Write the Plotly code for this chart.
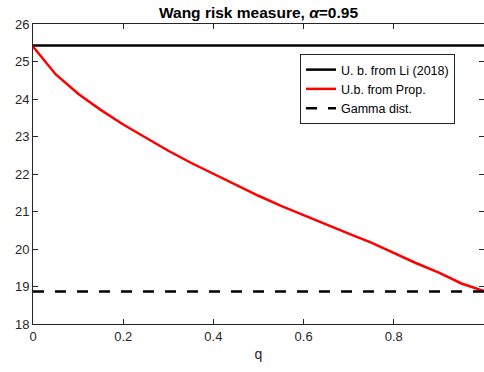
import plotly.graph_objects as go

q = [0, 0.05, 0.1, 0.15, 0.2, 0.25, 0.3, 0.35, 0.4, 0.45, 0.5,
     0.55, 0.6, 0.65, 0.7, 0.75, 0.8, 0.85, 0.9, 0.95, 1.0]
ub_prop = [25.40, 24.66, 24.14, 23.71, 23.32, 22.97, 22.62, 22.30, 22.00, 21.70, 21.42,
           21.15, 20.90, 20.64, 20.41, 20.17, 19.89, 19.62, 19.37, 19.08, 18.88]
ub_li = 25.43
gamma_val = 18.87

x_ticks = [0, 0.2, 0.4, 0.6, 0.8, 1]
y_ticks = [18, 19, 20, 21, 22, 23, 24, 25, 26]

FONT = "Liberation Sans, Arial"

fig = go.Figure()
fig.add_trace(go.Scatter(x=[q[0], q[-1]], y=[ub_li, ub_li], mode="lines",
                         line=dict(color="black", width=2.5), name="U. b. from Li (2018)"))
fig.add_trace(go.Scatter(x=q, y=ub_prop, mode="lines",
                         line=dict(color="#ff0000", width=2.5), name="U.b. from Prop."))
fig.add_trace(go.Scatter(x=[q[0], q[-1]], y=[gamma_val, gamma_val], mode="lines",
                         line=dict(color="black", width=2.5, dash="11px,11px"), name="Gamma dist."))

axis_common = dict(showgrid=False, zeroline=False, showline=True, linecolor="#262626",
                   linewidth=1, mirror="ticks", ticks="inside", ticklen=5, tickcolor="#262626",
                   tickfont=dict(family=FONT, size=13, color="#262626"))

fig.update_layout(
    width=484, height=372,
    margin=dict(l=33, r=0, t=24, b=48),
    paper_bgcolor="white", plot_bgcolor="white",
    title=dict(text="<b>Wang risk measure, <i>α</i>=0.95</b>", x=(33 + 484) / 2 / 484, xanchor="center",
               y=1 - 13 / 372, yanchor="middle",
               font=dict(family=FONT, size=15.5, color="black")),
    xaxis=dict(range=[0, 1], tickvals=x_ticks, ticktext=["0", "0.2", "0.4", "0.6", "0.8", "1"],
               title=dict(text="q", font=dict(family=FONT, size=14, color="#262626"),
                          standoff=6), **axis_common),
    yaxis=dict(range=[18, 26], tickvals=y_ticks, **axis_common),
    showlegend=True,
    legend=dict(x=(300 - 33) / 451, y=(324 - 54) / 300, xanchor="left", yanchor="top",
                bordercolor="#262626", borderwidth=1, bgcolor="white",
                font=dict(family=FONT, size=12.5, color="black"),
                tracegroupgap=0, itemwidth=30),
)

fig.write_html("out.html")
